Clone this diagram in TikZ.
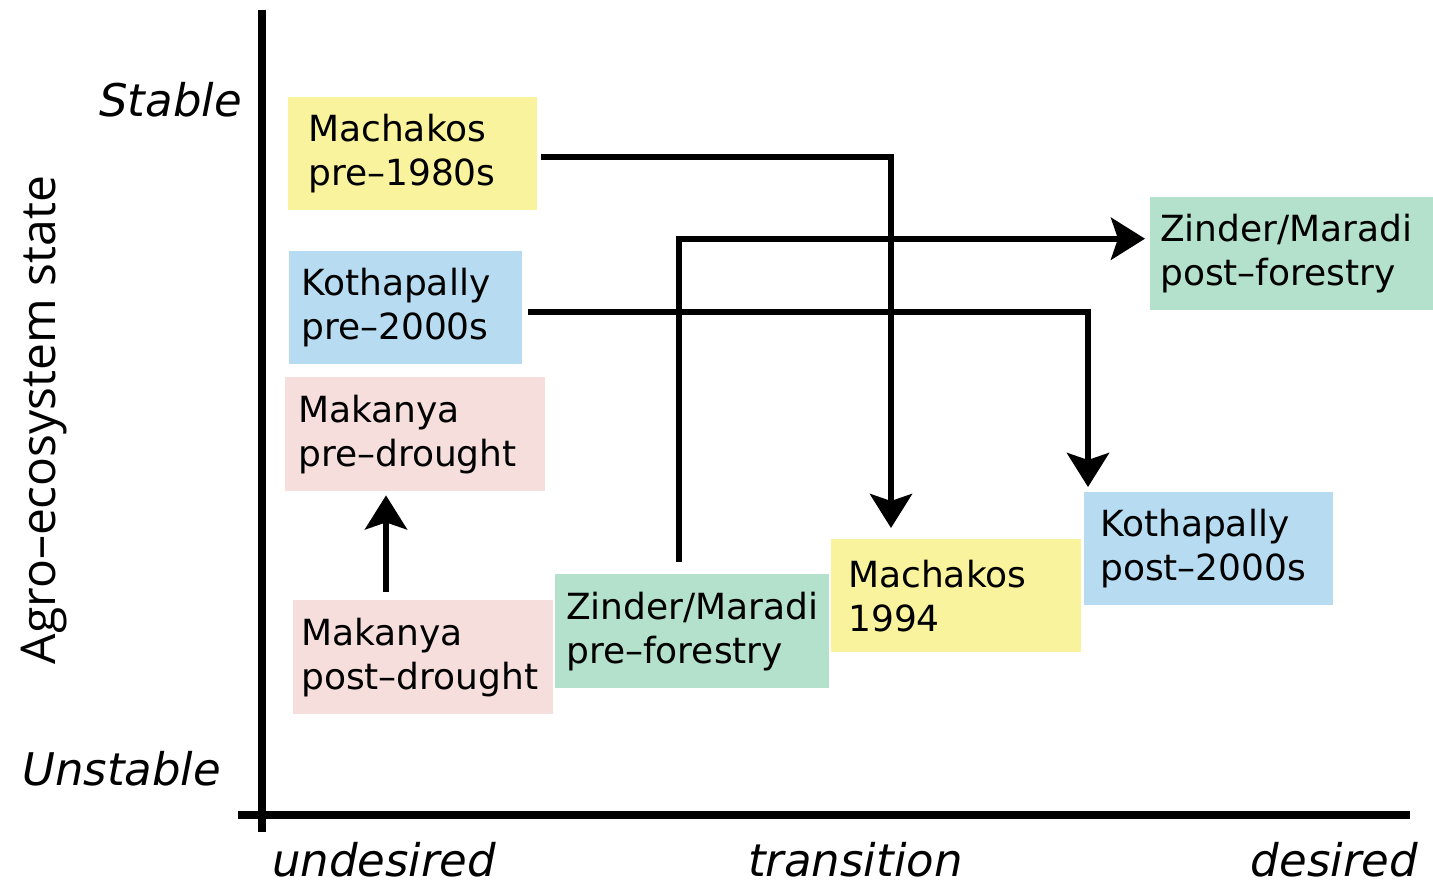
\documentclass[tikz,border=0pt]{standalone}
\usepackage{fontspec}
\setmainfont{DejaVu Sans}[ItalicFont={* Oblique}]
\newfontfamily\axisfont{Open Sans}
\usetikzlibrary{arrows.meta}
\definecolor{yell}{RGB}{249,243,157}
\definecolor{blu}{RGB}{183,220,241}
\definecolor{pnk}{RGB}{245,222,220}
\definecolor{grn}{RGB}{180,225,203}
\tikzset{
  state/.style={rectangle, anchor=north west, inner ysep=0pt, minimum height=113pt, align=left, font=\fontsize{36}{44}\selectfont},
  stbox/.style 2 args={state, text width=#1, inner xsep=#2},
  flow/.style={draw, line width=6pt, -{Stealth[length=34pt,width=42pt,inset=7pt]}},
  axis/.style={draw, line width=8pt},
  lbl/.style={font=\fontsize{45}{50}\selectfont\itshape, inner sep=0pt},
}
\begin{document}
\begin{tikzpicture}[x=1pt,y=-1pt]
  \useasboundingbox (0,0) rectangle (1433,891);

  % axes
  \draw[axis] (262,10) -- (262,832);
  \draw[axis] (238,815) -- (1410,815);

  \node[lbl, anchor=base east] (stable) at (242,117) {Stable};
  \node[lbl, anchor=base west] (unstable) at (22,785) {Unstable};
  \node[lbl, anchor=base west] (undes) at (272,876) {undesired};
  \node[lbl, anchor=base west] (trans) at (748,876) {transition};
  \node[lbl, anchor=base east] (des) at (1418,876) {desired};
  \node[font=\axisfont\fontsize{48}{50}\selectfont, rotate=90, anchor=base, inner sep=0pt] (state) at (55,420) {Agro–ecosystem state};

  % states
  \node[stbox={209pt}{20pt}, fill=yell] (mach80) at (288,97) {Machakos\\pre–1980s};
  \node[stbox={209pt}{12pt}, fill=blu] (koth0) at (289,251) {Kothapally\\pre–2000s};
  \node[stbox={234pt}{13pt}, fill=pnk, minimum height=114pt] (mpre) at (285,377) {Makanya\\pre–drought};
  \node[stbox={244pt}{8pt}, fill=pnk, minimum height=114pt] (mpost) at (293,600) {Makanya\\post–drought};
  \node[stbox={252pt}{11pt}, fill=grn, minimum height=114pt] (zpre) at (555,574) {Zinder/Maradi\\pre–forestry};
  \node[stbox={216pt}{17pt}, fill=yell] (mach94) at (831,539) {Machakos\\1994};
  \node[stbox={217pt}{16pt}, fill=blu] (koth1) at (1084,492) {Kothapally\\post–2000s};
  \node[stbox={263pt}{10pt}, fill=grn] (zpost) at (1150,197) {Zinder/Maradi\\post–forestry};

  % transitions
  \draw[flow] ([xshift=4pt,yshift=-3pt]mach80.east) -| ([xshift=60pt,yshift=11pt]mach94.north west);
  \draw[flow] ([xshift=124pt,yshift=12pt]zpre.north west) |- ([xshift=-5pt,yshift=15pt]zpost.west);
  \draw[flow] ([xshift=6pt,yshift=-4pt]koth0.east) -| ([xshift=4pt,yshift=5pt]koth1.north west);
  \draw[flow] ([xshift=93pt,yshift=8pt]mpost.north west) -- ([xshift=101pt,yshift=-4pt]mpre.south west);
\end{tikzpicture}
\end{document}
